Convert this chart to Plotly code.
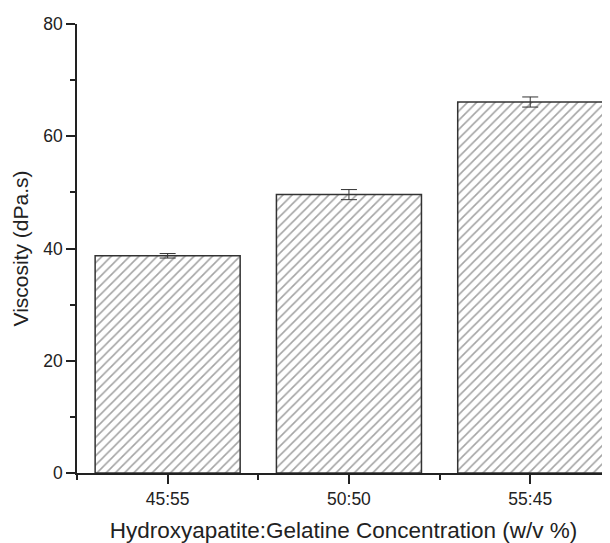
import plotly.graph_objects as go

categories = ["45:55", "50:50", "55:45"]
viscosity = [38.7, 49.6, 66.1]
errors = [0.4, 0.9, 0.9]

FONT = "Liberation Sans, Arial, sans-serif"

fig = go.Figure()
fig.add_trace(go.Bar(
    x=[0, 1, 2], y=viscosity, width=0.8,
    marker=dict(color="white", line=dict(color="#333333", width=1.5),
                pattern=dict(shape="/", fgcolor="#4a4a4a", bgcolor="white", size=6.5, solidity=0.25)),
    error_y=dict(type="data", array=errors, visible=True, color="#333333", thickness=1, width=8),
))

fig.update_layout(
    width=602, height=535,
    margin=dict(l=69, r=0, t=16, b=70),
    plot_bgcolor="white", paper_bgcolor="white",
    showlegend=False,
    font=dict(family=FONT, color="#222222"),
    xaxis=dict(
        range=[-0.5, 2.44], tickmode="array", tickvals=[0, 1, 2], ticktext=categories,
        ticks="outside", ticklen=9, tickwidth=1.5, tickcolor="#222222",
        showline=True, linecolor="#222222", linewidth=1.5, showgrid=False, zeroline=False,
        tickfont=dict(size=17.5),
        minor=dict(tickvals=[-0.5, 0.5, 1.5], ticks="outside", ticklen=5, tickwidth=1.5, tickcolor="#222222"),
        title=dict(text="Hydroxyapatite:Gelatine Concentration (w/v %)", font=dict(size=22.5), standoff=14),
    ),
    yaxis=dict(
        range=[0, 80], tickvals=[0, 20, 40, 60, 80],
        ticks="outside", ticklen=9, tickwidth=1.5, tickcolor="#222222",
        showline=True, linecolor="#222222", linewidth=1.5, showgrid=False, zeroline=False,
        tickfont=dict(size=17.5),
        minor=dict(tickvals=[10, 30, 50, 70], ticks="outside", ticklen=5, tickwidth=1.5, tickcolor="#222222"),
        title=dict(text="Viscosity (dPa.s)", font=dict(size=21), standoff=9),
    ),
)

fig.write_html("out.html")
